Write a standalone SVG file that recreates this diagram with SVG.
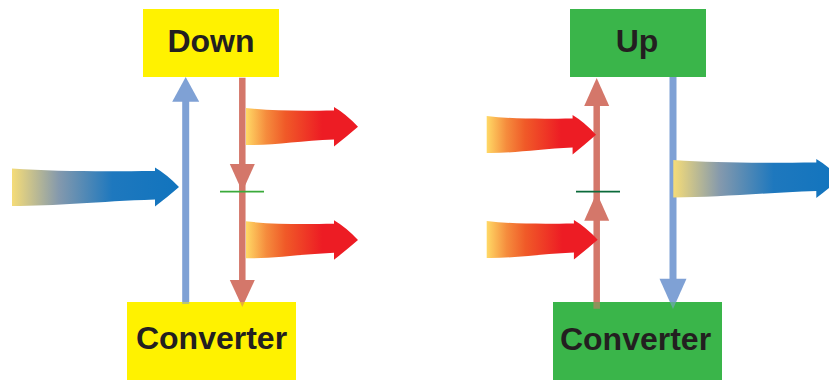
<svg xmlns="http://www.w3.org/2000/svg" width="829" height="380" viewBox="0 0 829 380">
<style>
.lbl{font-family:"Liberation Sans",Arial,sans-serif;font-weight:bold;font-size:32px;fill:#231F20;text-anchor:middle}
.yel{fill:#FFF200}
.grn{fill:#3AB54A}
.bl{stroke:#7FA1D5;stroke-width:7;fill:none}
.blh{fill:#7FA1D5}
.rd{stroke:#D4776A;stroke-width:6.5;fill:none}
.rdh{fill:#D4776A}
.tint{opacity:0.45}
</style>
<defs>
<linearGradient id="gRed" x1="0" y1="0" x2="1" y2="0">
<stop offset="0" stop-color="#FFD966"/>
<stop offset="0.18" stop-color="#F58C3D"/>
<stop offset="0.35" stop-color="#F05A28"/>
<stop offset="0.68" stop-color="#ED1C24"/>
<stop offset="1" stop-color="#ED1C24"/>
</linearGradient>
<linearGradient id="gBlue" x1="0" y1="0" x2="1" y2="0">
<stop offset="0" stop-color="#F5DC78"/>
<stop offset="0.28" stop-color="#8499AD"/>
<stop offset="0.6" stop-color="#1E78BE"/>
<stop offset="1" stop-color="#1174BE"/>
</linearGradient>
<path id="fatR" d="M0,0 C26,3 53,3 88,2.5 L88,-1 Q100,6 112,18.7 Q100,29 88,38.5 L88,31.5 C53,33 26,37.5 0,37 Z"/>
<path id="fatB" d="M0,0 C43,3 86,3 143,2.5 L143,-1 Q155,6 167,18.5 Q155,29 143,38 L143,31 C86,33 43,37.5 0,37.5 Z"/>
</defs>
<rect width="829" height="380" fill="#FFFFFF"/>

<g id="node-down">
<rect class="yel" x="143" y="9" width="136" height="68"/>
<text class="lbl" x="211" y="52">Down</text>
</g>
<g id="node-down-converter">
<rect class="yel" x="127" y="302" width="169" height="78"/>
<text class="lbl" x="211.5" y="349">Converter</text>
</g>
<g id="node-up">
<rect class="grn" x="570" y="9" width="136" height="68"/>
<text class="lbl" x="637" y="52">Up</text>
</g>
<g id="node-up-converter">
<rect class="grn" x="553" y="302" width="169" height="78"/>
<text class="lbl" x="635.5" y="350">Converter</text>
</g>

<g id="connectors">
<!-- left panel -->
<line class="bl" x1="185.7" y1="304" x2="185.7" y2="101"/>
<polygon class="blh" points="172.2,101.7 199.2,101.7 185.7,77"/>
<line class="rd" x1="242.3" y1="77.7" x2="242.3" y2="281"/>
<polygon class="rdh" points="229.8,164 254.8,164 242.3,191.7"/>
<polygon class="rdh" points="229.8,280 254.8,280 242.3,307"/>
<line x1="220" y1="191.7" x2="264" y2="191.7" stroke="#3AAA3A" stroke-width="1.8"/>
<use href="#fatB" fill="url(#gBlue)" transform="translate(12,168.5)"/>
<use href="#fatR" fill="url(#gRed)" transform="translate(246,108)"/>
<use href="#fatR" fill="url(#gRed)" transform="translate(246,221.3)"/>
<rect class="yel tint" x="127" y="302" width="169" height="8"/>
<!-- right panel -->
<line class="rd" x1="596.7" y1="308.7" x2="596.7" y2="106"/>
<polygon class="rdh" points="584.2,106 609.2,106 596.7,78"/>
<polygon class="rdh" points="584.2,220.7 609.2,220.7 596.7,192.7"/>
<line class="bl" x1="673" y1="77" x2="673" y2="279"/>
<polygon class="blh" points="659.5,278.7 686.5,278.7 673,309"/>
<rect class="grn tint" x="553" y="302" width="169" height="8"/>
<line x1="576" y1="191.7" x2="620" y2="191.7" stroke="#0B6A3A" stroke-width="1.8"/>
<use href="#fatR" fill="url(#gRed)" transform="translate(486.7,116) scale(0.976,1)"/>
<use href="#fatR" fill="url(#gRed)" transform="translate(486.7,221) scale(0.991,1)"/>
<use href="#fatB" fill="url(#gBlue)" transform="translate(673.3,160)"/>
</g>
</svg>
